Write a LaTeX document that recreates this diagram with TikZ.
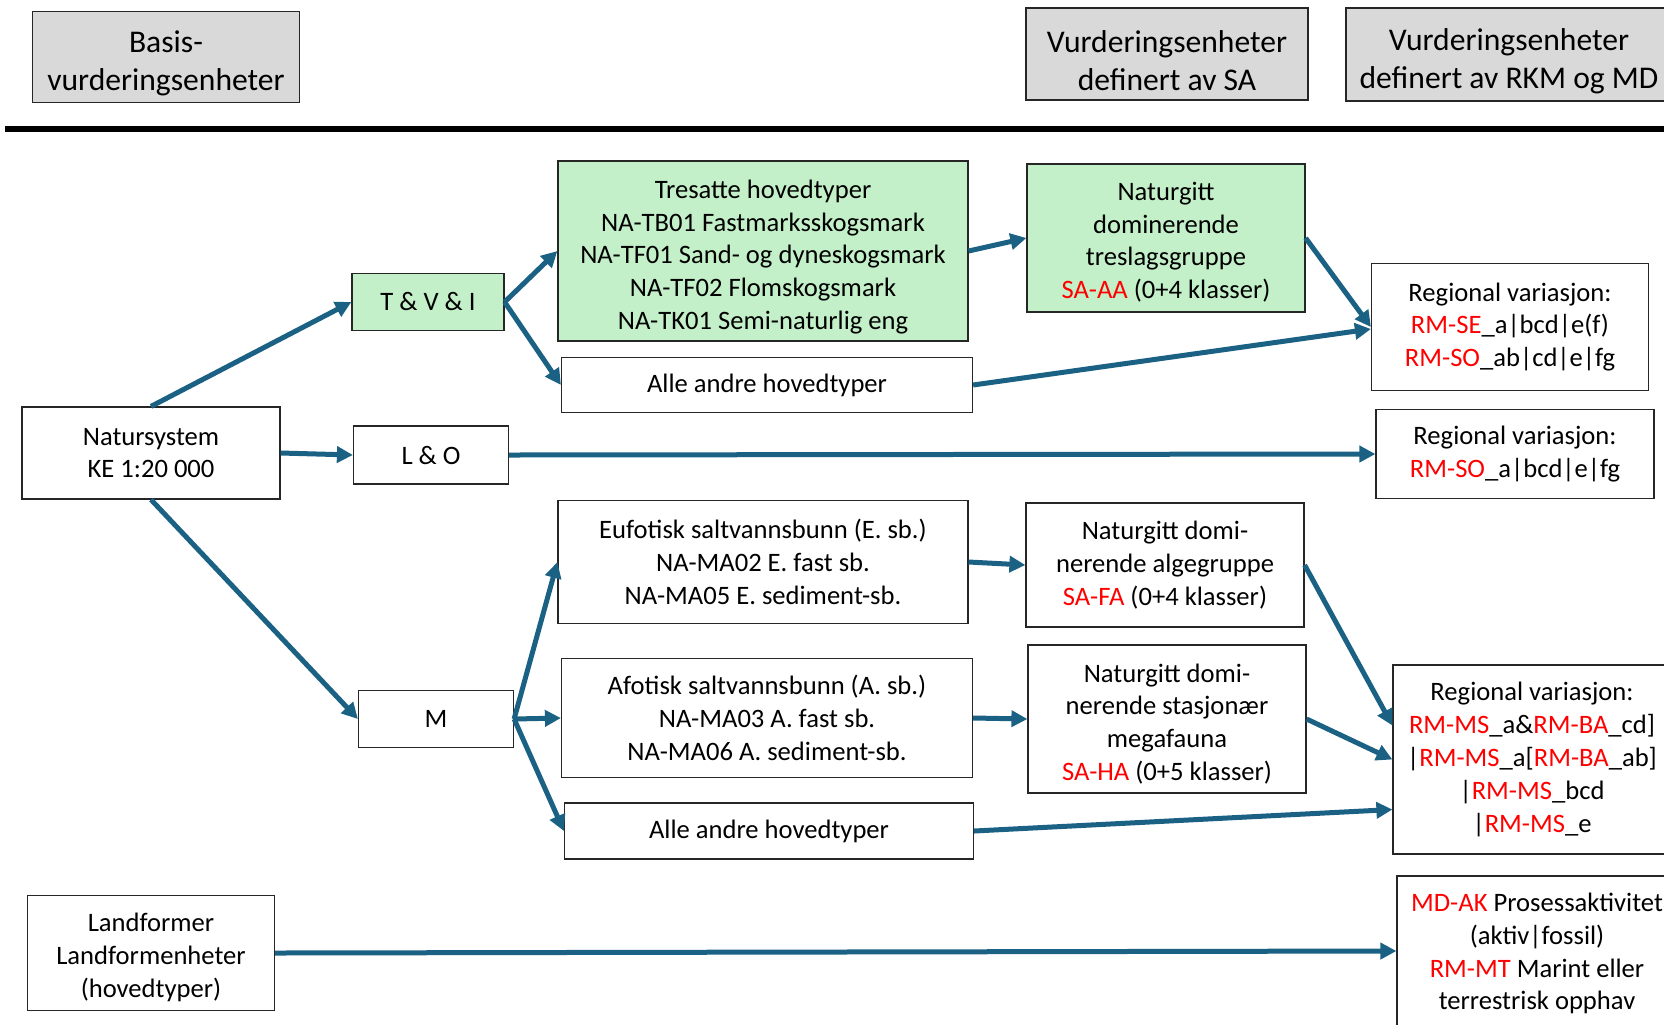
\documentclass[tikz,border=0pt]{standalone}
\usepackage{fontspec}
\setmainfont{Carlito}
\usetikzlibrary{arrows.meta,positioning}
\definecolor{arrowblue}{HTML}{1B6184}
\definecolor{boxgreen}{HTML}{C3F0C8}
\definecolor{headgrey}{HTML}{D9D9D9}
\newcommand{\redtxt}[1]{\textcolor{red}{#1}}
\newcommand{\lift}[1]{\rule{0pt}{#1}}
\begin{document}
\begin{tikzpicture}[
			x=0.5pt, y=-0.5pt,
			block/.style={rectangle, draw=black!85, line width=0.6pt, align=center, inner sep=0pt, font=\fontsize{13.3}{16.4}\selectfont},
			greenblock/.style={block, fill=boxgreen},
			headblock/.style={block, fill=headgrey, font=\fontsize{15.8}{19}\selectfont},
			arrow/.style={-{Triangle[length=8pt,width=8pt]}, line width=2.5pt, draw=arrowblue}
			]
			\useasboundingbox (0,0) rectangle (1664,1024);
			
			% Headers
			\node[headblock, minimum width=133.5pt, minimum height=45.5pt] (basis) at (166,57) {\lift{17.3pt}Basis-\\vurderingsenheter};
			\node[headblock, minimum width=141pt, minimum height=46pt] (headsa) at (1167,54) {\lift{17.3pt}Vurderingsenheter\\definert av SA};
			\node[headblock, minimum width=163pt, minimum height=46.5pt] (headrkm) at (1509,54.5) {\lift{17.3pt}Vurderingsenheter\\definert av RKM og MD};
			\draw[line width=3pt] (5,129) -- (1680,129);
			
			% Basis units
			\node[block, minimum width=129pt, minimum height=46pt] (nat) at (151,453) {Natursystem\\KE 1:20 000};
			\node[block, minimum width=123.5pt, minimum height=57.5pt] (land) at (151,953) {\lift{13.7pt}Landformer\\Landformenheter\\(hovedtyper)};
			
			% Groups
			\node[greenblock, minimum width=76pt, minimum height=28.5pt] (tvi) at (428,302) {T \& V \& I};
			\node[block, minimum width=77.5pt, minimum height=29pt] (lo) at (431,455) {L \& O};
			\node[block, minimum width=77.5pt, minimum height=28.5pt] (m) at (436,719) {M};
			
			% Main types
			\node[greenblock, minimum width=205pt, minimum height=90pt] (tresatte) at (763,251) {\lift{15.1pt}Tresatte hovedtyper\\NA-TB01 Fastmarksskogsmark\\NA-TF01 Sand- og dyneskogsmark\\NA-TF02 Flomskogsmark\\NA-TK01 Semi-naturlig eng};
			\node[block, minimum width=205.5pt, minimum height=27.5pt] (andre1) at (767,385) {Alle andre hovedtyper};
			\node[block, minimum width=205pt, minimum height=61.5pt] (eufot) at (763,562) {Eufotisk saltvannsbunn (E. sb.)\\NA-MA02 E. fast sb.\\NA-MA05 E. sediment-sb.};
			\node[block, minimum width=205.5pt, minimum height=59.5pt] (afot) at (767,718) {Afotisk saltvannsbunn (A. sb.)\\NA-MA03 A. fast sb.\\NA-MA06 A. sediment-sb.};
			\node[block, minimum width=204.5pt, minimum height=28pt] (andre2) at (769,831) {Alle andre hovedtyper};
			
			% SA units
			\node[greenblock, minimum width=139pt, minimum height=74pt] (treslag) at (1166,238) {\lift{13.4pt}Naturgitt\\dominerende\\treslagsgruppe\\\redtxt{SA-AA} (0+4 klasser)};
			\node[block, minimum width=139pt, minimum height=62pt] (alge) at (1165,565) {Naturgitt domi-\\nerende algegruppe\\\redtxt{SA-FA} (0+4 klasser)};
			\node[block, minimum width=139pt, minimum height=74pt] (mega) at (1167,719) {\lift{14.1pt}Naturgitt domi-\\nerende stasjonær\\megafauna\\\redtxt{SA-HA} (0+5 klasser)};
			
			% RKM and MD units
			\node[block, minimum width=138.5pt, minimum height=63.5pt] (reg1) at (1510,327) {Regional variasjon:\\\redtxt{RM-SE}\_a|bcd|e(f)\\\redtxt{RM-SO}\_ab|cd|e|fg};
			\node[block, minimum width=139pt, minimum height=44.5pt] (reg2) at (1515,454) {Regional variasjon:\\\redtxt{RM-SO}\_a|bcd|e|fg};
			\node[block, minimum width=139pt, minimum height=94.5pt] (regms) at (1532,759.5) {Regional variasjon:\\\redtxt{RM-MS}\_a\&\redtxt{RM-BA}\_cd]\\|\redtxt{RM-MS}\_a[\redtxt{RM-BA}\_ab]\\|\redtxt{RM-MS}\_bcd\\|\redtxt{RM-MS}\_e};
			\node[block, minimum width=140pt, minimum height=75pt] (mdak) at (1537,951) {\lift{11.9pt}\redtxt{MD-AK} Prosessaktivitet\\(aktiv|fossil)\\\redtxt{RM-MT} Marint eller\\terrestrisk opphav};
			
			% Arrows
			\draw[arrow] (nat.north) -- (tvi.west);
			\draw[arrow] (nat.east) -- (lo.west);
			\draw[arrow] (nat.south) -- (m.west);
			\draw[arrow] (tvi.east) -- (tresatte.west);
			\draw[arrow] (tvi.east) -- (andre1.west);
			\draw[arrow] (lo.east) -- (reg2.west);
			\draw[arrow] (m.east) -- (eufot.west);
			\draw[arrow] (m.east) -- (afot.west);
			\draw[arrow] (m.east) -- (andre2.west);
			\draw[arrow] (tresatte.east) -- (treslag.west);
			\draw[arrow] (treslag.east) -- (reg1.west);
			\draw[arrow] (andre1.east) -- ([yshift=-1pt]reg1.west);
			\draw[arrow] (eufot.east) -- (alge.west);
			\draw[arrow] (alge.east) -- ([yshift=17pt]regms.west);
			\draw[arrow] (afot.east) -- (mega.west);
			\draw[arrow] (mega.east) -- (regms.west);
			\draw[arrow] (andre2.east) -- ([yshift=-25pt]regms.west);
			\draw[arrow] (land.east) -- (mdak.west);
			
		\end{tikzpicture}
\end{document}
